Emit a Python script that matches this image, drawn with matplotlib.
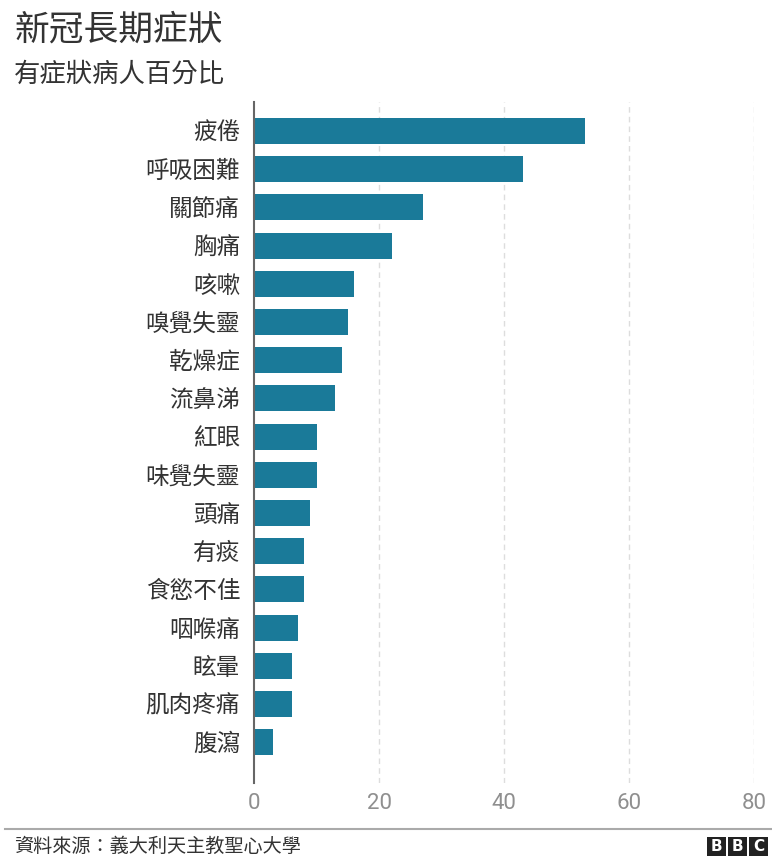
import matplotlib
matplotlib.use("Agg")
import matplotlib.pyplot as plt
from matplotlib.patches import Rectangle

plt.rcParams['font.family'] = ['Noto Sans CJK TC', 'DejaVu Sans']

categories = ["疲倦", "呼吸困難", "關節痛", "胸痛", "咳嗽", "嗅覺失靈", "乾燥症", "流鼻涕",
              "紅眼", "味覺失靈", "頭痛", "有痰", "食慾不佳", "咽喉痛", "眩暈", "肌肉疼痛", "腹瀉"]
values = [53, 43, 27, 22, 16, 15, 14, 13, 10, 10, 9, 8, 8, 7, 6, 6, 3]
xticks = [0, 20, 40, 60, 80]

title = "新冠長期症狀"
subtitle = "有症狀病人百分比"
source = "資料來源：義大利天主教聖心大學"

W, H = 772, 856
fig = plt.figure(figsize=(W / 100, H / 100), dpi=100)

ax_left, ax_right = 254, 754
ax_top, ax_bottom = 102, 783
ax = fig.add_axes([ax_left / W, 1 - ax_bottom / H, (ax_right - ax_left) / W, (ax_bottom - ax_top) / H])

y = list(range(len(categories)))
ax.barh(y, values, height=0.68, color="#1a7a99", zorder=3)
ax.set_ylim(17.07, -0.76)
ax.set_xlim(0, 80)
ax.set_xticks(xticks)
ax.set_xticklabels([str(t) for t in xticks])
ax.set_yticks(y)
ax.set_yticklabels(categories)
ax.tick_params(axis='y', length=0, pad=10, labelsize=17, labelcolor="#333333")
ax.tick_params(axis='x', length=0, pad=7, labelsize=16, labelcolor="#8f8f8f")
for lab in ax.get_xticklabels():
    lab.set_family(['Roboto', 'DejaVu Sans'])
for t in xticks[1:]:
    ax.axvline(t, color="#dddddd", linestyle=(0, (4, 3)), linewidth=1, zorder=1)
for s in ['top', 'right', 'bottom']:
    ax.spines[s].set_visible(False)
ax.spines['left'].set_color("#666666")
ax.spines['left'].set_linewidth(1.5)
ax.spines['left'].set_zorder(4)

fig.text(14 / W, 1 - 30 / H, title, fontsize=25, fontweight='medium', color="#333333", va='center', ha='left')
fig.text(14 / W, 1 - 74 / H, subtitle, fontsize=19, color="#333333", va='center', ha='left')

# footer line
fig.add_artist(plt.Line2D([5 / W, 1], [1 - 829 / H, 1 - 829 / H], color="#aaaaaa", linewidth=1.5))
fig.text(14 / W, 1 - 846 / H, source, fontsize=13.8, color="#333333", va='center', ha='left')

# BBC logo
for i, ch in enumerate("BBC"):
    x0 = 707 + i * 21
    fig.add_artist(Rectangle((x0 / W, 1 - 856 / H), 19 / W, 19 / H, transform=fig.transFigure,
                             facecolor="#222222", edgecolor="none"))
    fig.text((x0 + 9.5) / W, 1 - 846.5 / H, ch, fontsize=11, fontweight='bold', color="white",
             ha='center', va='center', family=['DejaVu Sans'])

fig.savefig("out.png", dpi=100, facecolor="white")
